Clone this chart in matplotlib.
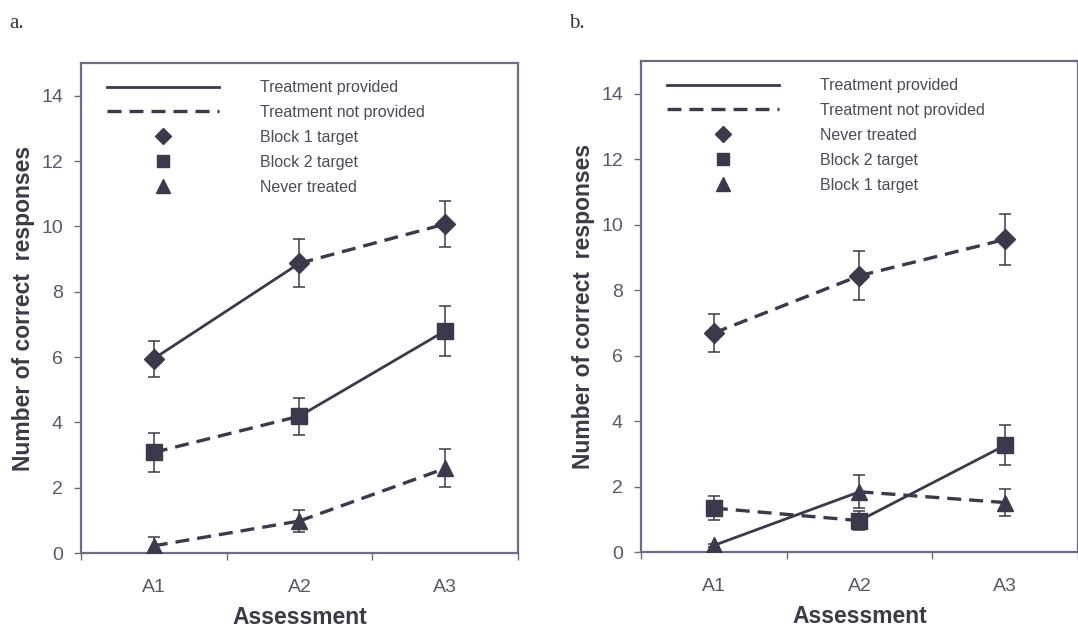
import numpy as np
import matplotlib.pyplot as plt
from matplotlib.lines import Line2D

# assessments
labels = ["A1", "A2", "A3"]
xpos = [1, 2, 3]

# panel a
a_names = ["Block 1 target", "Block 2 target", "Never treated"]
a_block1 = [5.95, 8.87, 10.07]
a_block1_err = [0.55, 0.74, 0.70]
a_block1_seg = ["solid", "dashed"]
a_block2 = [3.08, 4.19, 6.80]
a_block2_err = [0.60, 0.57, 0.77]
a_block2_seg = ["dashed", "solid"]
a_never = [0.22, 0.98, 2.59]
a_never_err = [0.27, 0.35, 0.58]
a_never_seg = ["dashed", "dashed"]

# panel b
b_names = ["Never treated", "Block 2 target", "Block 1 target"]
b_never = [6.69, 8.44, 9.55]
b_never_err = [0.57, 0.75, 0.77]
b_never_seg = ["dashed", "dashed"]
b_block2 = [1.34, 0.96, 3.26]
b_block2_err = [0.37, 0.28, 0.61]
b_block2_seg = ["dashed", "solid"]
b_block1 = [0.20, 1.84, 1.51]
b_block1_err = [0.05, 0.50, 0.42]
b_block1_seg = ["solid", "dashed"]

INK = "#3a3a4c"
SPINE = "#6c6c82"
TXT = "#58586a"
DASH = (0, (4.2, 2.4))

plt.rcParams['font.family'] = ['Liberation Sans', 'DejaVu Sans']


def style(ls):
    return "-" if ls == "solid" else DASH


def series(ax, y, err, seg, marker, ms):
    for i in range(len(seg)):
        lw = 2.0 if seg[i] == "solid" else 2.4
        ax.plot(xpos[i:i + 2], y[i:i + 2], color=INK, lw=lw, ls=style(seg[i]),
                zorder=2, solid_capstyle="butt")
    ax.errorbar(xpos, y, yerr=err, fmt="none", ecolor=INK, elinewidth=1.1,
                capsize=4, capthick=1.1, zorder=3)
    ax.plot(xpos, y, ls="none", marker=marker, ms=ms, color=INK, zorder=4)


def setup(ax, names, ylab):
    ax.set_xlim(0.5, 3.5)
    ax.set_ylim(0, 15)
    ax.set_yticks(range(0, 15, 2))
    ax.set_xticks([0.5, 1.5, 2.5, 3.5])
    ax.set_xticklabels([])
    ax.set_xticks(xpos, minor=True)
    ax.set_xticklabels(labels, minor=True)
    ax.tick_params(axis="x", which="minor", length=0, pad=19, labelsize=14, labelcolor=TXT)
    ax.tick_params(axis="x", which="major", length=5, width=1.0, color=SPINE, direction="out")
    ax.tick_params(axis="y", length=5, width=1.0, color=SPINE, direction="out",
                   pad=8, labelsize=14, labelcolor=TXT)
    for s in ax.spines.values():
        s.set_color(SPINE)
        s.set_linewidth(1.6)
    ax.set_xlabel("Assessment", fontsize=16.5, fontweight="bold", color="#3a3a48", labelpad=7)
    ax.set_ylabel(ylab, fontsize=16.5, fontweight="bold", color="#3a3a48", labelpad=4)

    handles = [
        Line2D([], [], color=INK, lw=2.0),
        Line2D([], [], color=INK, lw=2.4, ls=DASH),
        Line2D([], [], color=INK, ls="none", marker="D", ms=8),
        Line2D([], [], color=INK, ls="none", marker="s", ms=9),
        Line2D([], [], color=INK, ls="none", marker="^", ms=10),
    ]
    texts = ["Treatment provided", "Treatment not provided"] + names
    leg = ax.legend(handles, texts, loc="upper left", bbox_to_anchor=(0.045, 0.978),
                    frameon=False, fontsize=11.5, handlelength=7.0, handletextpad=2.6,
                    labelspacing=0.62, borderaxespad=0, numpoints=1)
    for t in leg.get_texts():
        t.set_color("#4a4a5a")


fig = plt.figure(figsize=(10.78, 6.3), dpi=100)
axa = fig.add_axes([0.0751, 0.1222, 0.4054, 0.7778])
axb = fig.add_axes([0.5946, 0.1238, 0.4054, 0.7794])

series(axa, a_block1, a_block1_err, a_block1_seg, "D", 10)
series(axa, a_block2, a_block2_err, a_block2_seg, "s", 11)
series(axa, a_never, a_never_err, a_never_seg, "^", 11)
setup(axa, a_names, "Number of correct  responses")

series(axb, b_never, b_never_err, b_never_seg, "D", 10)
series(axb, b_block2, b_block2_err, b_block2_seg, "s", 11)
series(axb, b_block1, b_block1_err, b_block1_seg, "^", 11)
setup(axb, b_names, "Number of correct  responses")

fig.text(0.009, 0.963, "a.", fontsize=15, family=["Liberation Serif", "DejaVu Serif"], color="#333333", va="center")
fig.text(0.528, 0.963, "b.", fontsize=15, family=["Liberation Serif", "DejaVu Serif"], color="#333333", va="center")

fig.savefig("out.png", dpi=100)
